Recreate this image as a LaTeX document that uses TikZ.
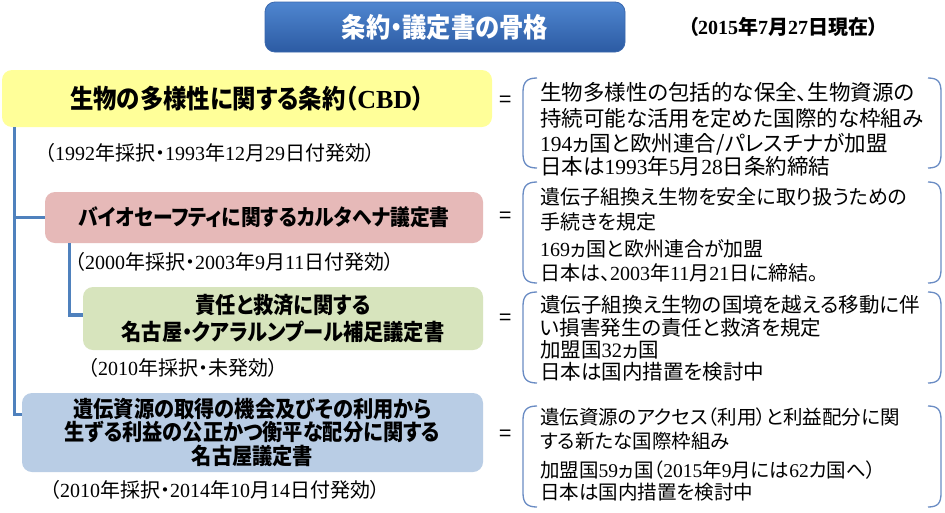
\documentclass[tikz,border=0pt]{standalone}
\usepackage{fontspec}
\setmainfont{Noto Sans CJK JP}[RawFeature=+palt]
\newfontfamily\boxfont{Noto Sans CJK JP}[RawFeature=+palt, FakeStretch=0.9]
\newfontfamily\dgfont{Liberation Serif}
\newcommand\dgt[1]{{\dgfont #1}}
\usetikzlibrary{calc}
\definecolor{cyel}{HTML}{FFFF99}
\definecolor{cpink}{HTML}{E6B9B8}
\definecolor{cgreen}{HTML}{D7E4BD}
\definecolor{cblue}{HTML}{B9CDE5}
\definecolor{lineblue}{HTML}{4F81BD}
\definecolor{brkblue}{HTML}{6A8CC4}
\definecolor{ttop}{HTML}{4F86D0}
\definecolor{tbot}{HTML}{2C5BA3}
\definecolor{tbrd}{HTML}{3A68AE}
\begin{document}
\begin{tikzpicture}[x=1pt,y=-1pt,
  box/.style={rounded corners=10pt, inner sep=0pt, align=center},
  tree/.style={draw=lineblue, line width=3.2pt},
  brk/.style={draw=brkblue, line width=1.3pt},
  rt/.style={anchor=west, inner sep=0pt},
  dt/.style={anchor=west, inner sep=0pt, font=\fontsize{20}{24}\selectfont},
  eq/.style={inner sep=0pt, font=\fontsize{22}{24}\selectfont}]
\useasboundingbox[fill=white] (0,0) rectangle (945,512);

% title
\node[box, top color=ttop, bottom color=tbot, draw=tbrd, line width=0.8pt,
  minimum width=360pt, minimum height=50pt, text=white,
  font=\boxfont\bfseries\fontsize{27}{28}\selectfont] (title) at (445,27) {条約・議定書の骨格};
\node[anchor=west, inner sep=0pt, font=\bfseries\fontsize{20}{22}\selectfont] (asof)
  at (688,27) {（\dgt{2015}年\dgt{7}月\dgt{27}日現在）};

% boxes
\node[box, fill=cyel, minimum width=490pt, minimum height=57pt,
  font=\boxfont\bfseries\fontsize{26}{28}\selectfont] (cbd) at (247,98.5)
  {生物の多様性に関する条約（\dgt{CBD}）};
\node[box, fill=cpink, minimum width=438pt, minimum height=51pt,
  font=\boxfont\bfseries\fontsize{22}{25}\selectfont] (cart) at (264,217.5)
  {バイオセーフティに関するカルタヘナ議定書};
\node[box, fill=cgreen, minimum width=400pt, minimum height=63pt,
  font=\boxfont\bfseries\fontsize{22.5}{27}\selectfont] (nkl) at (283,318.5)
  {\raisebox{-3pt}{\parbox{400pt}{\centering 責任と救済に関する\\名古屋・クアラルンプール補足議定書}}};
\node[box, fill=cblue, minimum width=461pt, minimum height=79pt,
  font=\boxfont\bfseries\fontsize{22.5}{23.5}\selectfont] (ngy) at (252.5,432.5)
  {遺伝資源の取得の機会及びその利用から\\生ずる利益の公正かつ衡平な配分に関する\\名古屋議定書};

% dates under boxes
\node[dt] (d1) at (45,153) {（\dgt{1992}年採択・\dgt{1993}年\dgt{12}月\dgt{29}日付発効）};
\node[dt] (d2) at (75,262) {（\dgt{2000}年採択・\dgt{2003}年\dgt{9}月\dgt{11}日付発効）};
\node[dt] (d3) at (88,368) {（\dgt{2010}年採択・未発効）};
\node[dt] (d4) at (50,490) {（\dgt{2010}年採択・\dgt{2014}年\dgt{10}月\dgt{14}日付発効）};

% tree connectors
\coordinate (t0) at ($(cbd.south west)+(13,0)$);
\coordinate (s0) at ($(cart.south west)+(25,0)$);
\draw[tree] (t0) |- (cart.west);
\draw[tree] (t0) |- ($(ngy.north west)+(0,22)$);
\draw[tree] (s0) |- ($(nkl.west)+(0,-3.5)$);

% equals
\node[eq] (e1) at (506,102) {=};
\node[eq] (e2) at (506,218) {=};
\node[eq] (e3) at (506,320) {=};
\node[eq] (e4) at (506,436) {=};

% brackets
\foreach \t/\b in {78/168,182/283,292/383,406/507}{
  \draw[brk] (537,\t) .. controls (527,\t) and (523,\t+4) .. (523,\t+14) -- (523,\b-14)
     .. controls (523,\b-4) and (527,\b) .. (537,\b);
  \draw[brk] (928,\t) .. controls (938,\t) and (941,\t+4) .. (941,\t+14) -- (941,\b-14)
     .. controls (941,\b-4) and (938,\b) .. (928,\b);
}

% right texts
\begin{scope}[every node/.append style={font=\fontsize{21.5}{24}\selectfont}]
\node[rt] (a1) at (540,92) {生物多様性の包括的な保全、生物資源の};
\node[rt] (a2) at (540,118) {持続可能な活用を定めた国際的な枠組み};
\node[rt] (a3) at (540,144) {\dgt{194}ヵ国と欧州連合/パレスチナが加盟};
\node[rt] (a4) at (540,166) {日本は\dgt{1993}年\dgt{5}月\dgt{28}日条約締結};
\end{scope}

\begin{scope}[every node/.append style={font=\fontsize{20}{24}\selectfont}]
\node[rt] (b1) at (540,197) {遺伝子組換え生物を安全に取り扱うための};
\node[rt] (b2) at (540,222) {手続きを規定};
\node[rt] (b3) at (540,249) {\dgt{169}ヵ国と欧州連合が加盟};
\node[rt] (b4) at (540,273) {日本は、\dgt{2003}年\dgt{11}月\dgt{21}日に締結。};
\end{scope}

\begin{scope}[every node/.append style={font=\fontsize{20.5}{24}\selectfont}]
\node[rt] (c1) at (540,305) {遺伝子組換え生物の国境を越える移動に伴};
\node[rt] (c2) at (540,328) {い損害発生の責任と救済を規定};
\node[rt] (c3) at (540,350) {加盟国\dgt{32}ヵ国};
\node[rt] (c4) at (540,372) {日本は国内措置を検討中};
\end{scope}

\begin{scope}[every node/.append style={font=\fontsize{19.5}{24}\selectfont}]
\node[rt] (f1) at (540,417) {遺伝資源のアクセス（利用）と利益配分に関};
\node[rt] (f2) at (540,441) {する新たな国際枠組み};
\node[rt] (f3) at (540,470) {加盟国\dgt{59}ヵ国（\dgt{2015}年\dgt{9}月には\dgt{62}カ国へ）};
\node[rt] (f4) at (540,492) {日本は国内措置を検討中};
\end{scope}
\end{tikzpicture}
\end{document}
